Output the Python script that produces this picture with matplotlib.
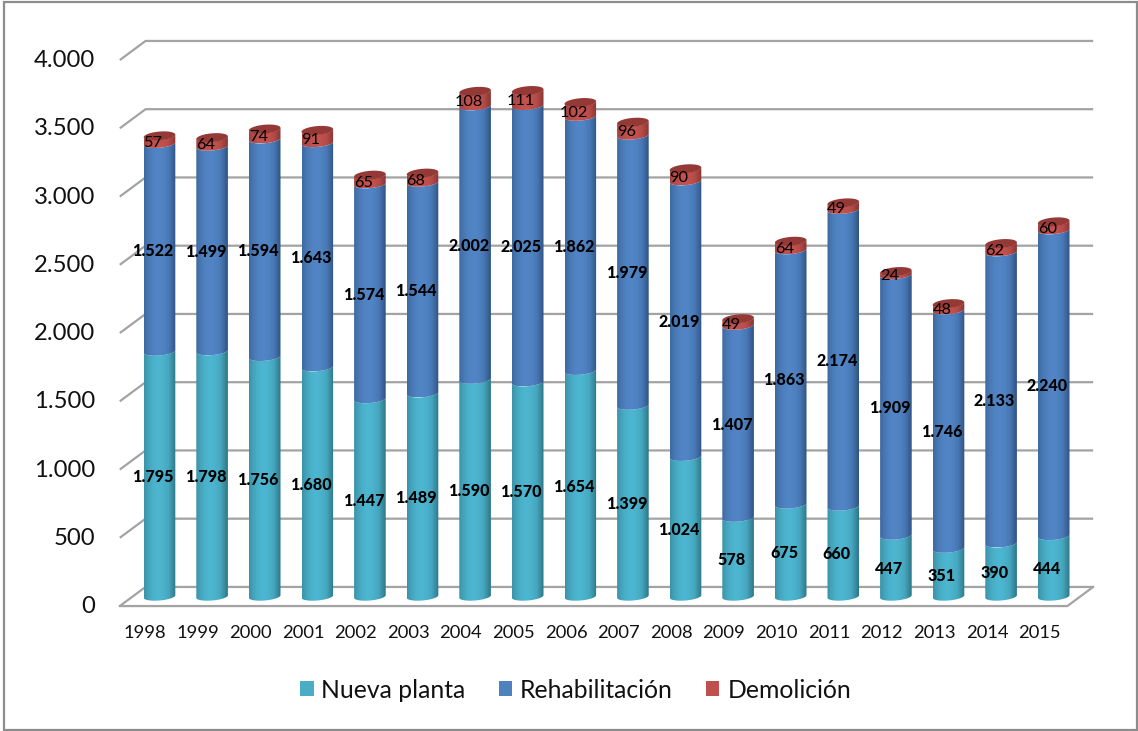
import numpy as np
import matplotlib
matplotlib.use("Agg")
import matplotlib.pyplot as plt
from matplotlib.colors import LinearSegmentedColormap
from matplotlib.patches import Patch, PathPatch, Rectangle
from matplotlib.path import Path

years = [1998, 1999, 2000, 2001, 2002, 2003, 2004, 2005, 2006, 2007, 2008, 2009, 2010, 2011, 2012, 2013, 2014, 2015]
nueva = [1795, 1798, 1756, 1680, 1447, 1489, 1590, 1570, 1654, 1399, 1024, 578, 675, 660, 447, 351, 390, 444]
rehab = [1522, 1499, 1594, 1643, 1574, 1544, 2002, 2025, 1862, 1979, 2019, 1407, 1863, 2174, 1909, 1746, 2133, 2240]
demol = [57, 64, 74, 91, 65, 68, 108, 111, 102, 96, 90, 49, 64, 49, 24, 48, 62, 60]
yticks = [0, 500, 1000, 1500, 2000, 2500, 3000, 3500, 4000]
names = ["Nueva planta", "Rehabilitación", "Demolición"]
base_colors = ["#4BACC6", "#4F81BD", "#C0504D"]
centers = ["#4DB6D0", "#5285C6", "#C4524F"]
edges = ["#2C7586", "#2E5383", "#863633"]

W, H = 1138, 731
PX_X = 52.6           # pixels per category
PX_V = 0.1365         # pixels per value unit
X0, V0 = 159.5, 596.5  # pixel of category 0 / value 0

plt.rcParams["font.family"] = ["Lato", "DejaVu Sans"]
fig = plt.figure(figsize=(W / 100, H / 100), dpi=100, facecolor="white")
ax = fig.add_axes([0, 0, 1, 1])
xlim = ((0 - X0) / PX_X, (W - X0) / PX_X)
ylim = ((V0 - H) / PX_V, (V0 - 0) / PX_V)
ax.axis("off")

# chart frame
fig.add_artist(Rectangle((3.5 / W, 1.5 / H), (W - 5) / W, (H - 3) / H, transform=fig.transFigure,
                         fill=False, ec="#8C8C8C", lw=1.6))

# wall gridlines and floor, from the tick values
grid_c = "#A3A3A3"
dz_x, dz_v = 0.49, 70.0   # depth in category units, half depth in value units
left, right = -0.755, 17.26
for t in yticks:
    ax.plot([left, left + dz_x, right + dz_x], [t - dz_v, t + dz_v, t + dz_v],
            color=grid_c, lw=1.6, solid_capstyle="butt", zorder=1)
ax.plot([left, right, right + dz_x], [-dz_v, -dz_v, dz_v],
        color=grid_c, lw=1.6, zorder=1)

# cylinders
w = 15.8 / PX_X
h_side = 4.0 / PX_V
tilt = 1.3 / PX_V
t_front = np.linspace(np.pi, 2 * np.pi, 40)
t_all = np.linspace(0, 2 * np.pi, 80)
grad = np.array([0.0, 0.12, 0.3, 0.45, 0.6, 0.78, 0.92, 1.0])
prof = np.array([0.55, 0.3, 0.06, 0.0, 0.05, 0.25, 0.7, 1.0])
u = np.linspace(0, 1, 64)
shade = np.interp(u, grad, prof)[None, :]


def front(cx, v):
    return (cx + w * np.cos(t_front), v + h_side * np.sin(t_front) + tilt * np.cos(t_front))


cum = np.zeros(len(years))
series = [nueva, rehab, demol]
for s, vals in enumerate(series):
    cmap = LinearSegmentedColormap.from_list("c", [centers[s], edges[s]])
    for i, val in enumerate(vals):
        v0, v1 = cum[i], cum[i] + val
        bx, by = front(i, v0)
        tx, ty = front(i, v1)
        xs = np.r_[bx, tx[::-1], bx[0]]
        ys = np.r_[by, ty[::-1], by[0]]
        path = Path(np.c_[xs, ys])
        clip = PathPatch(path, transform=ax.transData, fc="none", ec="none")
        ax.add_patch(clip)
        im = ax.imshow(shade, cmap=cmap, vmin=0, vmax=1, aspect="auto", interpolation="bilinear",
                       extent=(i - w, i + w, ys.min(), ys.max()), origin="lower", zorder=3 + s)
        im.set_clip_path(clip)
        if s == 2:
            ex = i + w * np.cos(t_all)
            ey = v1 + h_side * 1.1 * np.sin(t_all) + tilt * np.cos(t_all)
            ax.fill(ex, ey, color="#953936", lw=0, zorder=6)
    cum += np.array(vals)


def fmt(n):
    return f"{n:,}".replace(",", ".")


# data labels
cum = np.zeros(len(years))
for s, vals in enumerate(series):
    for i, val in enumerate(vals):
        ax.annotate(fmt(val), (i, cum[i] + val / 2), xytext=(-6.5 * 0.72, -3 * 0.72),
                    textcoords="offset points", ha="center", va="center",
                    fontsize=11.6 if s < 2 else 11.8, fontweight=900 if s < 2 else "normal",
                    color="black", zorder=8)
    cum += np.array(vals)

# axis labels
for t in yticks:
    ax.text(left - 25 / PX_X, t - dz_v - 0.5 / PX_V, fmt(t), ha="right", va="center",
            fontsize=17.2, color="#111111", zorder=8)
for i, y in enumerate(years):
    ax.text(i - 0.27, -36.5 / PX_V, str(y), ha="center", va="center", fontsize=13.2, color="#111111")

handles = [Patch(fc=c, ec="none", label=n) for c, n in zip(base_colors, names)]
leg = ax.legend(handles=handles, ncol=3, loc="center", bbox_to_anchor=(575.5 / W, 1 - 690 / H),
                bbox_transform=fig.transFigure, frameon=False, fontsize=17.8,
                handlelength=0.55, handleheight=0.55, handletextpad=0.32, columnspacing=1.33,
                labelspacing=0, borderpad=0, labelcolor="#111111")

ax.set_xlim(*xlim)
ax.set_ylim(*ylim)
fig.savefig("out.png", dpi=100, facecolor="white")
